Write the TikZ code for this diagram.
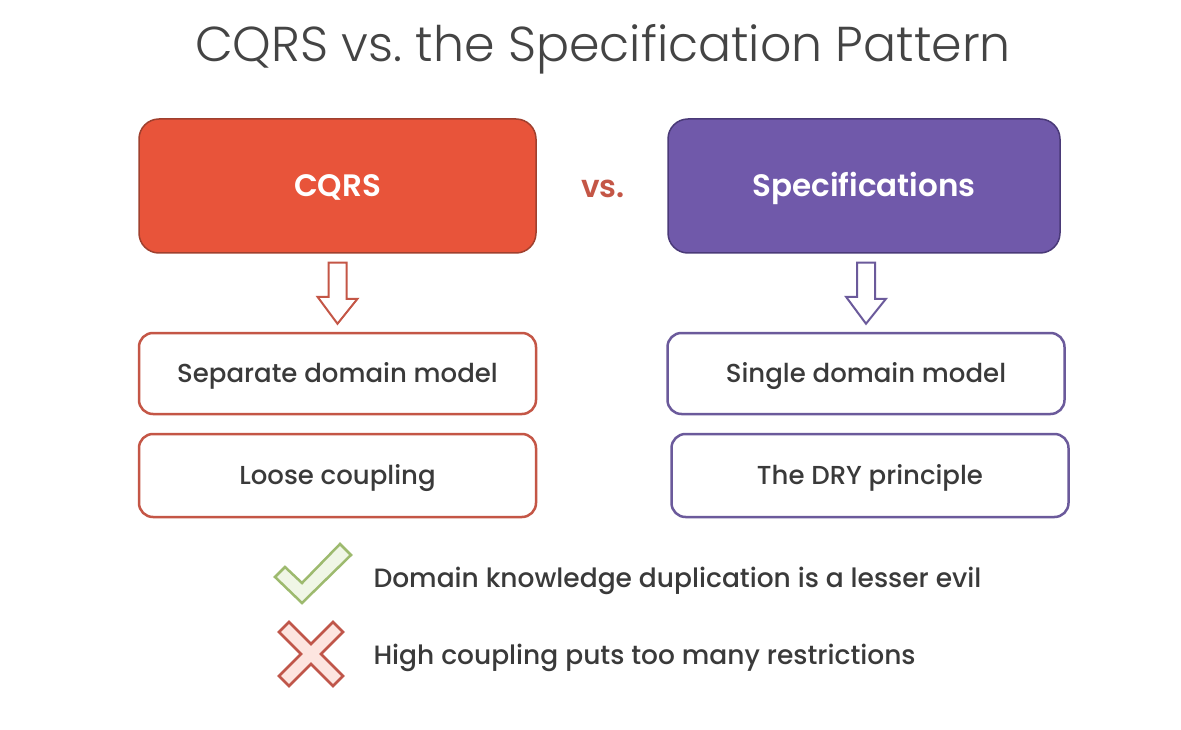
\documentclass[tikz,border=0pt]{standalone}
\usepackage{fontspec}
\setmainfont{Poppins}
\newfontfamily\titlefont{Poppins Light}
\newfontfamily\labelfont{Poppins Medium}
\newfontfamily\headfont{Poppins SemiBold}
\usetikzlibrary{positioning,calc}

\definecolor{cqrsfill}{RGB}{232,84,58}
\definecolor{cqrsdraw}{RGB}{160,64,46}
\definecolor{specfill}{RGB}{112,89,170}
\definecolor{specdraw}{RGB}{74,58,120}
\definecolor{cqrsline}{RGB}{196,86,70}
\definecolor{specline}{RGB}{107,90,155}
\definecolor{textgray}{RGB}{58,58,58}
\definecolor{titlegray}{RGB}{68,68,68}
\definecolor{checkdraw}{RGB}{157,186,110}
\definecolor{checkfill}{RGB}{240,246,230}
\definecolor{crossdraw}{RGB}{192,86,74}
\definecolor{crossfill}{RGB}{253,229,224}

\tikzset{
  headbox/.style={rounded corners=20pt, minimum width=397pt, minimum height=134pt,
    line width=1.5pt, text=white, text height=22pt, text depth=0pt,
    font=\headfont\fontsize{31}{36}\selectfont},
  itembox/.style={rounded corners=14pt, minimum width=397pt, minimum height=81pt,
    line width=2.5pt, fill=white, text=textgray, text height=18pt, text depth=0pt,
    font=\labelfont\fontsize{26}{30}\selectfont},
  blockarrow/.style={line width=2pt, fill=white, line join=miter},
  noteline/.style={anchor=west, text=textgray, text height=18pt, text depth=0pt,
    font=\labelfont\fontsize{26.5}{30}\selectfont}
}

\begin{document}
\begin{tikzpicture}[x=1pt, y=-1pt]
    \useasboundingbox[fill=white] (0,0) rectangle (1181,730);

    % Title
    \node[anchor=base, text=titlegray, font=\titlefont\fontsize{49}{56}\selectfont] (title) at (603,62) {CQRS vs.\ the Specification Pattern};

    % Header boxes
    \node[headbox, fill=cqrsfill, draw=cqrsdraw] (cqrs) at (337.5,186) {CQRS};
    \node[headbox, fill=specfill, draw=specdraw, minimum width=392pt] (spec) at (864,186) {Specifications};
    \node[text=cqrsline, text height=22pt, text depth=0pt, font=\headfont\fontsize{31}{36}\selectfont] (vs) at (603,187) {vs.};

    % Item boxes - left
    \node[itembox, draw=cqrsline] (sep) at (337.5,373.5) {Separate domain model};
    \node[itembox, draw=cqrsline, minimum height=83pt] (loose) at (337.5,475.5) {Loose coupling};

    % Item boxes - right
    \node[itembox, draw=specline] (single) at (866,373.5) {Single domain model};
    \node[itembox, draw=specline, minimum height=83pt] (dry) at (870,475.5) {The DRY principle};

    % Block arrows
    \foreach \src/\dst/\col in {cqrs/sep/cqrsline, spec/single/specline}
        \draw[blockarrow, draw=\col] ($(\src.south -| \dst.north)+(-9,9)$) -- ++(18,0) -- ++(0,36) -- ++(11,0)
            -- ($(\dst.north)+(0,-8)$) -- ++(-20,-27) -- ++(11,0) -- cycle;

    % Notes
    \node[noteline] (pro) at (370,578) {Domain knowledge duplication is a lesser evil};
    \node[noteline] (con) at (370,655) {High coupling puts too many restrictions};

    % Check mark
    \draw[line width=2.5pt, draw=checkdraw, fill=checkfill, line join=miter]
        (285,567) -- (302,583) -- (340,544) -- (351,555) -- (302,603) -- (275,577) -- cycle;

    % Cross
    \draw[line width=2.5pt, draw=crossdraw, fill=crossfill, line join=miter, shift={(311,654)}]
        (0,-10) -- (22,-32) -- (32,-22) -- (10,0) -- (32,22) -- (22,32) -- (0,10)
        -- (-22,32) -- (-32,22) -- (-10,0) -- (-32,-22) -- (-22,-32) -- cycle;
\end{tikzpicture}
\end{document}
